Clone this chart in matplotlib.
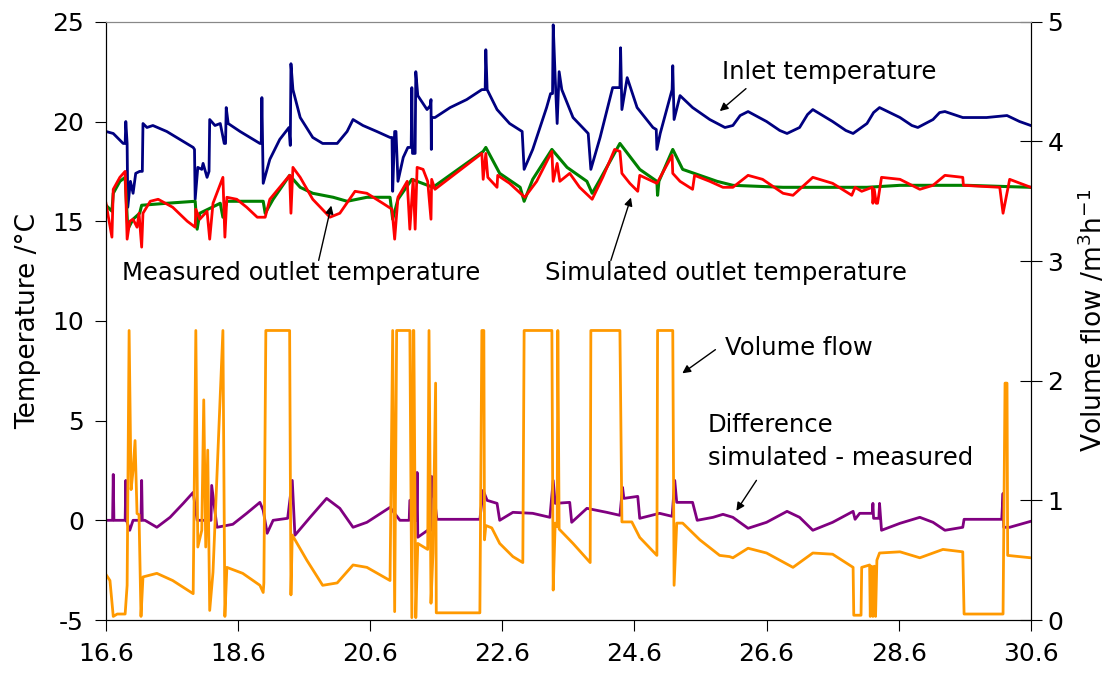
import matplotlib
matplotlib.use("Agg")
import matplotlib.pyplot as plt

# inlet temperature (day, degC)
inlet_x = [16.60,16.71,16.86,16.89,16.90,16.92,16.93,16.97,17.01,17.05,17.11,17.15,17.16,17.22,17.31,17.52,17.77,17.92,17.94,17.95,17.99,18.05,18.07,18.13,18.16,18.17,18.25,18.33,18.39,18.41,18.42,18.45,18.63,18.78,18.93,18.95,18.96,18.97,18.98,19.08,19.23,19.37,19.39,19.40,19.43,19.54,19.73,19.88,20.10,20.25,20.34,20.49,20.70,20.90,20.93,20.94,20.97,20.99,21.02,21.10,21.17,21.22,21.23,21.24,21.28,21.29,21.32,21.46,21.51,21.52,21.525,21.53,21.58,21.81,22.06,22.29,22.34,22.35,22.37,22.52,22.71,22.90,22.93,23.06,23.27,23.33,23.36,23.37,23.40,23.43,23.46,23.50,23.67,23.90,23.94,24.08,24.27,24.35,24.38,24.39,24.41,24.49,24.64,24.88,24.93,24.94,24.99,25.17,25.18,25.20,25.29,25.48,25.74,25.97,26.09,26.20,26.32,26.60,26.80,26.91,27.10,27.22,27.30,27.60,27.80,27.91,28.12,28.22,28.31,28.62,28.80,28.89,29.12,29.22,29.30,29.57,29.93,30.24,30.43,30.60]
inlet_y = [19.5,19.4,18.9,18.9,20.0,18.9,15.7,17.0,16.4,17.4,17.5,17.5,19.9,19.7,19.8,19.5,19.0,18.7,18.6,16.1,17.7,17.6,17.9,17.2,17.5,20.1,19.8,19.9,18.9,18.9,20.7,19.9,19.5,19.2,18.9,18.9,21.2,18.9,16.9,18.1,19.1,19.7,18.8,22.9,21.6,20.2,19.2,18.9,18.9,19.5,20.1,19.8,19.5,19.2,19.2,16.5,19.5,19.5,17.0,18.2,18.7,18.7,21.7,18.4,18.4,22.5,21.3,20.6,20.8,21.1,18.6,20.2,20.2,20.7,21.1,21.6,21.6,23.6,21.6,20.6,19.9,19.5,17.6,18.6,20.7,21.4,21.4,24.85,22.2,19.9,22.5,21.6,20.2,19.4,17.6,19.2,21.7,21.7,21.7,23.7,20.6,22.2,20.7,19.7,19.6,18.6,19.4,21.6,22.8,20.1,21.3,20.7,20.1,19.7,19.8,20.3,20.5,20.0,19.55,19.4,19.7,20.35,20.6,20.0,19.55,19.4,19.9,20.45,20.7,20.2,19.8,19.7,20.1,20.45,20.5,20.2,20.2,20.3,20.0,19.8]

# measured outlet temperature
meas_x = [16.60,16.69,16.71,16.81,16.89,16.92,16.96,17.01,17.07,17.10,17.14,17.16,17.27,17.39,17.61,17.83,17.95,17.96,18.02,18.13,18.17,18.22,18.37,18.40,18.43,18.58,18.73,18.89,19.01,19.08,19.23,19.38,19.40,19.43,19.54,19.73,19.99,20.14,20.37,20.55,20.79,20.93,20.97,21.02,21.16,21.20,21.25,21.28,21.31,21.40,21.47,21.52,21.53,21.58,22.29,22.31,22.35,22.38,22.52,22.53,22.71,22.94,23.12,23.35,23.37,23.43,23.47,23.62,23.77,23.96,24.12,24.30,24.38,24.41,24.53,24.65,24.68,24.94,25.17,25.18,25.29,25.48,25.51,25.74,25.94,26.09,26.32,26.54,26.85,27.00,27.30,27.60,27.89,27.94,28.04,28.20,28.21,28.23,28.26,28.28,28.34,28.62,28.92,29.12,29.30,29.57,29.58,30.13,30.18,30.28,30.60]
meas_y = [15.9,14.2,16.6,17.2,17.5,14.1,15.0,15.1,14.7,15.4,13.7,15.4,16.0,16.1,15.7,15.0,14.7,15.6,15.1,15.5,14.1,15.9,17.2,14.2,16.2,16.1,15.7,15.2,15.2,16.1,16.7,17.3,15.4,17.7,17.2,16.1,15.2,15.4,16.5,16.4,15.9,15.6,14.1,16.2,17.0,14.6,17.1,14.6,17.7,17.6,17.0,15.1,17.1,16.6,18.4,17.1,18.4,17.2,16.7,17.3,16.9,16.2,17.0,18.5,17.0,17.9,17.0,17.4,16.7,16.1,17.2,18.6,18.5,17.4,16.9,16.5,17.3,16.9,18.3,17.4,17.0,16.6,17.3,17.0,16.7,16.7,17.3,17.1,16.4,16.3,17.2,16.9,16.3,16.7,16.5,16.7,15.9,16.6,15.9,15.9,17.2,17.1,16.6,16.8,17.3,17.2,16.8,16.7,15.4,17.1,16.7]

# simulated outlet temperature
sim_x = [16.60,16.69,16.71,16.81,16.89,16.93,17.01,17.11,17.14,17.52,17.95,17.98,18.02,18.33,18.37,18.43,18.98,19.01,19.13,19.38,19.54,19.73,20.04,20.25,20.55,20.90,20.94,21.02,21.23,21.47,21.55,22.31,22.35,22.56,22.87,22.93,23.06,23.35,23.58,23.88,23.96,24.08,24.38,24.68,24.94,24.95,24.97,25.18,25.33,25.85,26.09,26.85,27.60,28.12,28.62,29.63,30.60]
sim_y = [15.8,15.5,16.4,17.0,17.2,14.6,15.1,15.4,15.8,15.9,16.0,14.6,15.4,15.9,15.2,16.0,16.0,15.4,16.1,17.3,16.7,16.4,16.2,16.0,16.2,16.2,15.1,16.1,17.1,16.8,16.7,18.5,18.7,17.4,16.7,16.0,17.1,18.6,17.7,17.0,16.4,17.1,18.9,17.6,17.0,16.3,17.0,18.6,17.6,17.0,16.8,16.7,16.7,16.7,16.8,16.8,16.7]

# difference simulated - measured
diff_x = [16.60,16.70,16.71,16.72,16.89,16.90,16.91,16.96,17.01,17.13,17.14,17.15,17.19,17.37,17.57,17.77,17.92,17.98,18.19,18.20,18.28,18.52,18.73,18.93,18.98,19.04,19.13,19.35,19.42,19.46,19.69,19.94,20.14,20.34,20.55,20.90,21.05,21.19,21.20,21.30,21.31,21.32,21.47,21.52,21.53,21.61,22.26,22.31,22.37,22.52,22.56,22.76,23.06,23.32,23.37,23.40,23.62,23.65,23.88,24.18,24.38,24.42,24.44,24.65,24.68,24.98,25.17,25.21,25.24,25.48,25.55,25.79,25.94,26.09,26.32,26.60,26.91,27.10,27.30,27.60,27.91,27.94,28.01,28.20,28.21,28.22,28.30,28.31,28.34,28.62,28.92,29.12,29.30,29.57,29.59,30.16,30.18,30.19,30.28,30.60]
diff_y = [0.0,0.0,2.3,0.0,0.0,2.0,0.0,-0.5,0.0,0.0,2.0,0.0,0.0,-0.35,0.15,0.85,1.4,0.0,0.0,1.75,-0.35,-0.2,0.35,0.9,0.5,-0.65,0.0,0.1,2.0,-0.75,0.15,1.1,0.6,-0.35,-0.1,0.65,0.0,0.0,1.0,0.0,2.4,-0.85,-0.5,-0.5,2.2,0.05,0.05,1.5,1.0,0.85,0.0,0.4,0.35,0.15,2.0,0.85,0.9,-0.1,0.6,0.4,0.25,1.65,1.1,1.2,0.1,0.35,0.2,2.0,0.9,0.9,0.0,0.15,0.3,0.15,-0.4,-0.1,0.45,0.15,-0.5,-0.1,0.45,0.05,0.35,0.35,0.85,0.1,0.1,0.85,-0.5,-0.15,0.15,-0.1,-0.5,-0.35,0.05,0.05,1.35,-0.35,-0.35,-0.05]

# volume flow (m3/h)
flow_x = [16.60,16.66,16.71,16.77,16.89,16.92,16.95,16.98,17.01,17.04,17.07,17.10,17.13,17.16,17.37,17.61,17.92,17.96,17.99,18.05,18.08,18.11,18.14,18.17,18.22,18.37,18.40,18.43,18.67,18.93,18.98,18.99,19.02,19.38,19.40,19.42,19.64,19.88,20.10,20.34,20.55,20.90,20.94,20.97,21.00,21.20,21.23,21.25,21.26,21.29,21.32,21.47,21.49,21.52,21.55,21.59,21.60,22.26,22.29,22.32,22.33,22.35,22.44,22.56,22.76,22.91,22.93,23.35,23.37,23.40,23.43,23.44,23.46,23.67,23.93,23.94,24.38,24.41,24.56,24.68,24.94,24.95,25.18,25.20,25.24,25.33,25.59,25.89,26.04,26.09,26.32,26.60,27.00,27.30,27.60,27.91,27.92,28.03,28.04,28.16,28.17,28.19,28.21,28.23,28.25,28.27,28.31,28.62,28.92,29.27,29.57,29.59,30.18,30.21,30.24,30.25,30.60]
flow_y = [0.38,0.33,0.03,0.05,0.05,0.29,2.42,1.09,1.25,1.50,0.89,0.88,0.03,0.36,0.39,0.33,0.22,2.42,0.61,0.75,1.84,0.61,1.42,0.08,0.40,2.42,0.03,0.44,0.39,0.29,0.23,0.31,2.42,2.42,0.21,0.71,0.50,0.29,0.31,0.46,0.44,0.33,2.42,0.07,2.42,2.42,0.02,2.42,2.42,0.02,0.64,0.59,2.42,0.14,0.56,1.98,0.06,0.06,2.42,2.42,0.67,0.79,0.77,0.64,0.53,0.48,2.42,2.42,0.25,0.81,0.78,2.42,0.76,0.64,0.48,2.42,2.42,0.82,0.82,0.69,0.54,2.42,2.42,0.29,0.81,0.81,0.67,0.54,0.53,0.52,0.60,0.56,0.44,0.56,0.55,0.44,0.04,0.04,0.44,0.46,0.03,0.45,0.03,0.45,0.03,0.50,0.56,0.57,0.52,0.59,0.57,0.05,0.05,1.98,1.98,0.54,0.52]

xticks = [16.6,18.6,20.6,22.6,24.6,26.6,28.6,30.6]

plt.rcParams["font.family"] = ["DejaVu Sans"]
plt.rcParams["axes.unicode_minus"] = False
fig = plt.figure(figsize=(11.18, 6.86), dpi=100)
ax = fig.add_axes([0.0948, 0.0962, 0.8272, 0.872])
ax.plot(inlet_x, inlet_y, color="#000080", lw=2)
ax.plot(sim_x, sim_y, color="#008000", lw=2.2)
ax.plot(meas_x, meas_y, color="#ff0000", lw=2)
ax.plot(diff_x, diff_y, color="#800080", lw=2)
ax.set_xlim(16.6, 30.6)
ax.set_ylim(-5, 25)
ax.set_xticks(xticks)
ax.set_xticklabels(["%.1f" % t for t in xticks])
ax.set_yticks([-5, 0, 5, 10, 15, 20, 25])
ax.set_ylabel("Temperature /°C", fontsize=19, labelpad=8)
ax.tick_params(axis="x", direction="out", length=8, labelsize=18, pad=8)
ax.tick_params(axis="y", direction="out", length=8, labelsize=18, pad=8)
ax.spines["top"].set_color("#888888")

ax2 = ax.twinx()
ax2.plot(flow_x, flow_y, color="#ff9900", lw=2)
ax2.set_ylim(0, 5)
ax2.set_yticks([0, 1, 2, 3, 4, 5])
ax2.set_ylabel(r"Volume flow /m$^{3}$h$^{-1}$", fontsize=19, labelpad=10)
ax2.tick_params(axis="y", direction="inout", length=16, labelsize=18, pad=4)
ax2.spines["top"].set_color("#888888")

fs = 17.5
arr = dict(arrowstyle="-|>", color="black", lw=1, mutation_scale=12)
ax.annotate("", xy=(25.86, 20.43), xytext=(26.32, 21.74), arrowprops=arr)
ax.text(25.92, 22.5, "Inlet temperature", fontsize=fs, va="center")
ax.annotate("", xy=(20.02, 15.92), xytext=(19.81, 12.9), arrowprops=arr)
ax.text(16.84, 12.4, "Measured outlet temperature", fontsize=fs, va="center")
ax.annotate("", xy=(24.56, 16.32), xytext=(24.23, 12.9), arrowprops=arr)
ax.text(23.24, 12.4, "Simulated outlet temperature", fontsize=fs, va="center")
ax.annotate("", xy=(25.29, 7.29), xytext=(25.86, 8.64), arrowprops=arr)
ax.text(25.97, 8.64, "Volume flow", fontsize=fs, va="center")
ax.annotate("", xy=(26.12, 0.36), xytext=(26.47, 2.12), arrowprops=arr)
ax.text(25.71, 3.95, "Difference\nsimulated - measured", fontsize=fs, va="center",
        linespacing=1.45)

plt.savefig("out.png", dpi=100)
